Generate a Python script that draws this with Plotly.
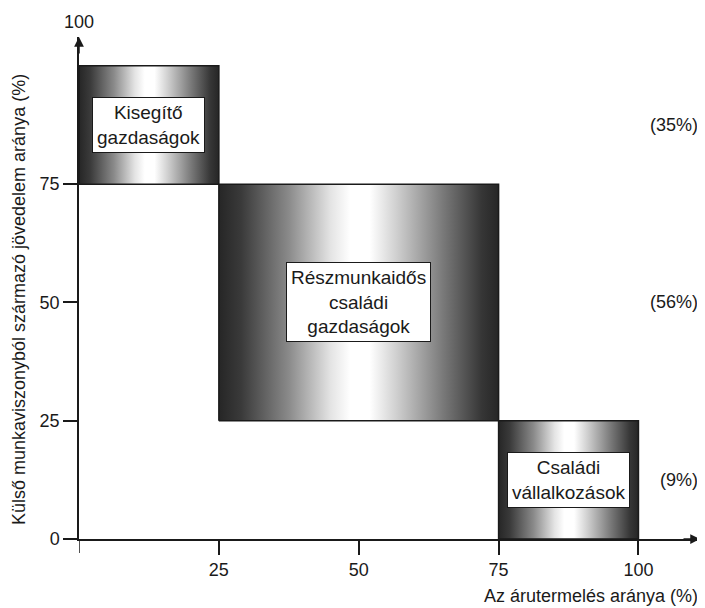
import plotly.graph_objects as go

# ---------------------------------------------------------------------------
# Data
# ---------------------------------------------------------------------------
labels = ["Kisegítő<br>gazdaságok",
          "Részmunkaidős<br>családi<br>gazdaságok",
          "Családi<br>vállalkozások"]
x_start = [0, 25, 75]      # árutermelés aránya (%)
x_end = [25, 75, 100]
y_low = [75, 25, 0]        # külső jövedelem aránya (%)
y_high = [100, 75, 25]
shares = [35, 56, 9]       # a gazdaságok aránya (%)

x_ticks = [25, 50, 75, 100]
y_ticks = [0, 25, 50, 75]
y_top_label = "100"

x_title = "Az árutermelés aránya (%)"
y_title = "Külső munkaviszonyból származó jövedelem aránya (%)"

# ---------------------------------------------------------------------------
# Style
# ---------------------------------------------------------------------------
INK = "#1a1a1a"
FONT = "Liberation Sans, Arial, sans-serif"
CYLINDER = [
    [0.00, "#262626"],
    [0.08, "#3a3a3a"],
    [0.25, "#8a8a8a"],
    [0.40, "#e4e4e4"],
    [0.47, "#ffffff"],
    [0.54, "#ffffff"],
    [0.63, "#d2d2d2"],
    [0.80, "#7a7a7a"],
    [0.94, "#363636"],
    [1.00, "#262626"],
]

fig = go.Figure()

for x0, x1, y0, y1 in zip(x_start, x_end, y_low, y_high):
    fig.add_trace(go.Scatter(
        x=[x0, x1, x1, x0, x0],
        y=[y0, y0, y1, y1, y0],
        mode="lines",
        fill="toself",
        fillgradient=dict(type="horizontal", colorscale=CYLINDER),
        line=dict(color=INK, width=1.5),
        hoverinfo="skip",
        showlegend=False,
    ))

# label boxes at the centre of each block
for lab, x0, x1, y0, y1 in zip(labels, x_start, x_end, y_low, y_high):
    fig.add_annotation(
        x=(x0 + x1) / 2, y=(y0 + y1) / 2, xref="x", yref="y",
        text=lab, showarrow=False,
        font=dict(family=FONT, size=19, color=INK),
        bgcolor="white", bordercolor=INK, borderwidth=1, borderpad=4,
    )

# shares on the right
for s, y0, y1 in zip(shares, y_low, y_high):
    fig.add_annotation(
        x=1.0, y=(y0 + y1) / 2, xref="paper", yref="y",
        xanchor="right", yanchor="middle",
        text=f"({s}%)", showarrow=False,
        font=dict(family=FONT, size=18, color=INK),
    )

# axis arrows
fig.add_annotation(x=1, y=0, xref="paper", yref="paper", ax=-18, ay=0,
                   text="", showarrow=True, arrowhead=2, arrowsize=1.3,
                   arrowwidth=1.5, arrowcolor=INK)
fig.add_annotation(x=0, y=1, xref="paper", yref="paper", ax=0, ay=18,
                   text="", showarrow=True, arrowhead=2, arrowsize=1.3,
                   arrowwidth=1.5, arrowcolor=INK)
# small stub of y axis below the origin
fig.add_shape(type="line", xref="x", yref="paper", x0=0, x1=0, y0=0, y1=-0.028,
              line=dict(color=INK, width=1.5))

# top label and axis titles
fig.add_annotation(x=0, y=1, xref="x", yref="paper", yshift=3, yanchor="bottom",
                   text=y_top_label, showarrow=False,
                   font=dict(family=FONT, size=18, color=INK))
fig.add_annotation(x=1, y=-0.114, xref="paper", yref="paper",
                   xanchor="right", yanchor="middle",
                   text=x_title, showarrow=False,
                   font=dict(family=FONT, size=18, color=INK))
fig.add_annotation(x=-0.0966, y=0.476, xref="paper", yref="paper",
                   textangle=-90, xanchor="center", yanchor="middle",
                   text=y_title, showarrow=False,
                   font=dict(family=FONT, size=18, color=INK))

axis_common = dict(
    showgrid=False, zeroline=False, showline=True, linecolor=INK, linewidth=1.5,
    ticks="outside", ticklen=14, tickwidth=1.5, tickcolor=INK,
    tickfont=dict(family=FONT, size=18, color=INK),
)
fig.update_xaxes(range=[0, 111], tickvals=x_ticks, **axis_common)
fig.update_yaxes(range=[0, 106.1], tickvals=y_ticks, **axis_common)

# page body keeps its default 8px margin, so the figure is 16px smaller
fig.update_layout(
    width=697, height=600,
    margin=dict(l=71, r=5, t=29, b=69),
    paper_bgcolor="white", plot_bgcolor="white",
    showlegend=False,
)

fig.write_html("out.html")
